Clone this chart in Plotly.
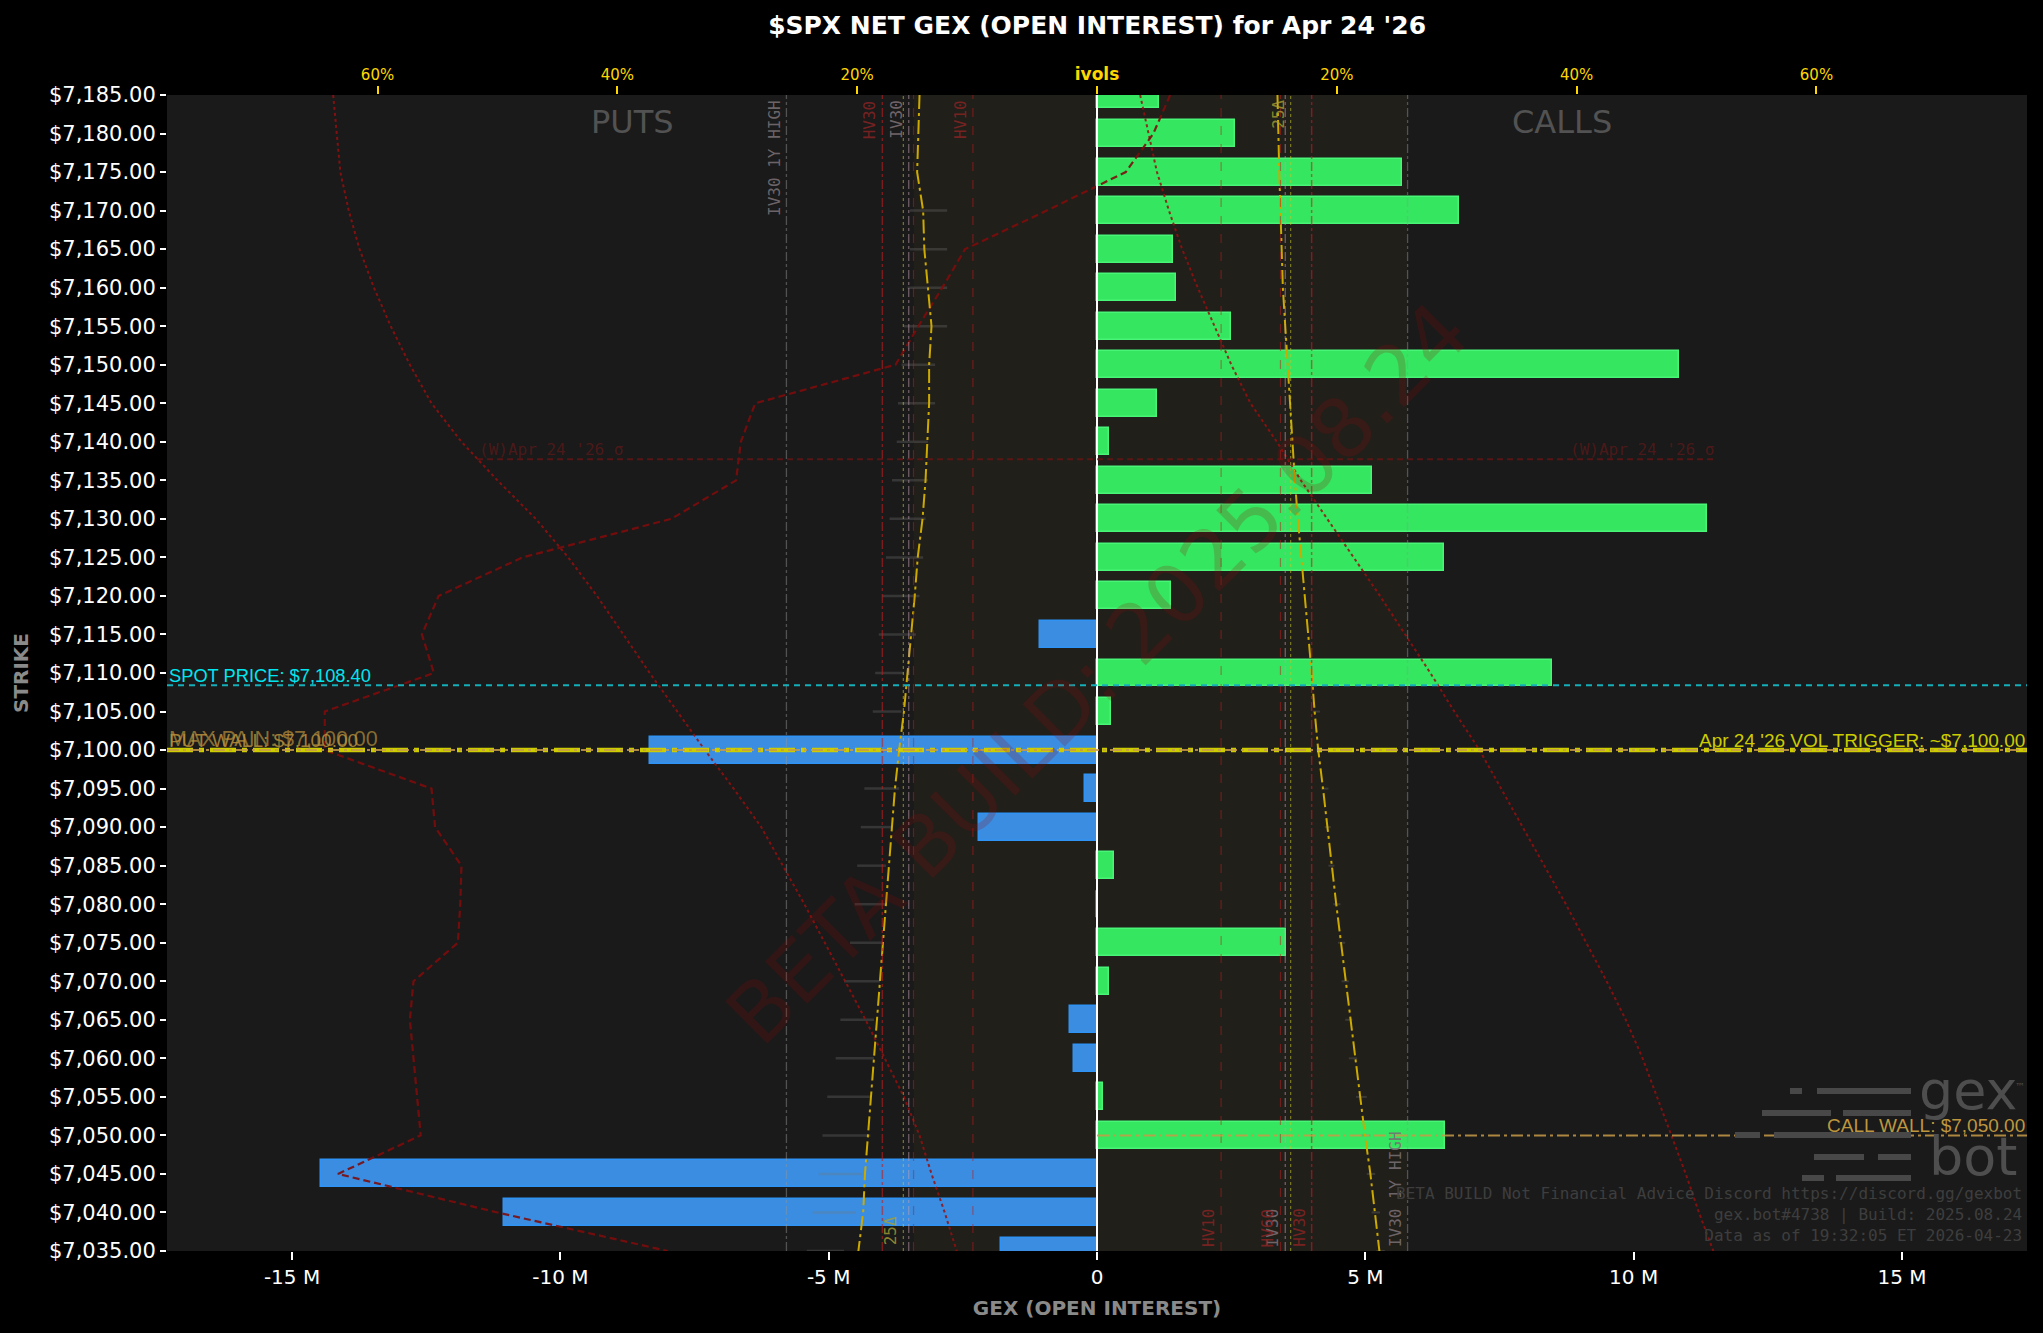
import plotly.graph_objects as go

# ---------------- data ----------------
strikes = [7185, 7180, 7175, 7170, 7165, 7160, 7155, 7150, 7145, 7140, 7135, 7130,
           7125, 7120, 7115, 7110, 7105, 7100, 7095, 7090, 7085, 7080, 7075, 7070,
           7065, 7060, 7055, 7050, 7045, 7040, 7035]
net_gex_m = [1.16, 2.57, 5.69, 6.75, 1.42, 1.48, 2.49, 10.85, 1.11, 0.23, 5.12, 11.37,
             6.47, 1.37, -1.07, 8.47, 0.26, -8.33, -0.22, -2.20, 0.31, 0.0, 3.53, 0.22,
             -0.51, -0.42, 0.11, 6.49, -14.46, -11.05, -1.79]

# implied vol skew curves (percent) - puts plotted mirrored on the left
put_ivol = [14.8, 14.9, 15.0, 14.5, 14.4, 14.1, 13.8, 14.0, 14.0, 14.15, 14.3, 14.55,
            14.95, 15.2, 15.5, 15.85, 16.1, 16.5, 16.85, 17.1, 17.35, 17.6, 17.85, 18.1,
            18.35, 18.6, 18.85, 19.1, 19.35, 19.5, 19.9]
call_ivol = [15.05, 15.1, 15.2, 15.3, 15.4, 15.5, 15.7, 15.9, 16.05, 16.3, 16.5, 16.75,
             17.05, 17.3, 17.6, 17.9, 18.15, 18.45, 18.85, 19.2, 19.55, 19.95, 20.35, 20.75,
             21.1, 21.5, 21.9, 22.35, 22.8, 23.2, 23.55]
# signed skew curve (dark red dashed)
skew_curve = [6.1, 4.7, 2.4, -4.2, -11.0, -12.9, -14.9, -16.8, -28.5, -29.7, -30.1, -35.5,
              -47.9, -54.9, -56.3, -55.3, -64.4, -64.4, -55.5, -55.2, -53.0, -53.1, -53.3, -57.0,
              -57.3, -57.0, -56.7, -56.4, -63.3, -50.0, -35.8]
# dotted curves (percent)
put_wing = [63.7, 63.4, 63.1, 62.4, 61.5, 60.3, 58.9, 57.3, 55.5, 53.0, 50.0, 46.8,
            44.1, 41.7, 39.5, 37.3, 35.0, 32.7, 30.3, 28.0, 26.2, 24.4, 22.7, 21.0,
            19.3, 17.7, 16.1, 14.8, 13.8, 12.7, 11.7]
call_wing = [3.6, 4.3, 5.0, 6.0, 7.1, 8.4, 9.8, 11.2, 12.8, 15.0, 17.0, 19.2,
             21.4, 23.6, 25.7, 27.8, 29.8, 31.9, 33.7, 35.5, 37.3, 39.1, 40.8, 42.5,
             44.1, 45.5, 46.7, 47.9, 49.1, 50.2, 51.4]
# faint bid/ask range marks
put_mark_lo = [None, None, None, 12.5, 12.5, 12.5, 12.5, 13.5, 13.5, 14.1, 14.1, 14.3,
               14.5, 14.8, 15.1, 16.1, 16.3, 16.5, 16.5, 17.1, 17.6, 17.6, 17.9, 18.1,
               18.6, 18.6, 18.9, 18.9, 19.6, 20.1, 21.1]
put_mark_hi = [None, None, None, 15.6, 15.6, 15.8, 16.1, 16.3, 16.6, 16.7, 17.1, 17.3,
               17.6, 17.9, 18.2, 18.5, 18.7, 19.0, 19.4, 19.7, 20.0, 20.2, 20.6, 21.1,
               21.4, 21.8, 22.5, 22.9, 23.2, 23.7, 24.2]
call_mark_lo = [None] * 16 + [18.0, 18.3, 18.7, 19.0, 19.3, 19.7, 20.1, 20.4,
                              20.7, 21.0, 21.6, 22.0, 22.5, 22.9, 23.3]
call_mark_hi = [None] * 16 + [18.6, 18.9, 19.3, 19.5, 19.8, 20.3, 20.7, 21.0,
                              21.3, 21.7, 22.5, 22.8, 23.2, 23.6, 24.0]

# reference vols (percent)
ref_vols = {"IV30 1Y HIGH": 25.9, "HV30": 17.9, "IV30": 15.7, "HV60": 15.3, "HV10": 10.35}
delta25 = 16.15

# levels
spot_price = 7108.40
vol_trigger = 7100.0
put_wall = 7100.0
max_pain = 7100.0
call_wall = 7050.0
sigma_level = 7137.75
sigma_ivol = 51.7

x_ticks_m = [-15, -10, -5, 0, 5, 10, 15]
x_tick_text = ["-15 M", "-10 M", "-5 M", "0", "5 M", "10 M", "15 M"]
ivol_ticks = [-60, -40, -20, 0, 20, 40, 60]
ivol_tick_text = ["60%", "40%", "20%", "<b><span style='font-size:17px'>ivols</span></b>", "20%", "40%", "60%"]

# ---------------- styling ----------------
X_LIM_M = 17.33
PCT_PER_M = 20 / 4.469          # ivol axis scale relative to GEX axis
GREEN, GREEN_EDGE = "#34e660", "#48f577"
BLUE, BLUE_EDGE = "#3a8de0", "#2f93f5"
GOLD = "#FFD700"
TAN = "rgb(190,150,62)"
YEL = "rgb(204,204,0)"

fig = go.Figure()

fig.add_trace(go.Bar(
    y=strikes, x=[v * 1e6 for v in net_gex_m], orientation="h", width=3.5,
    marker=dict(color=[GREEN if v >= 0 else BLUE for v in net_gex_m],
                line=dict(color=[GREEN_EDGE if v >= 0 else BLUE_EDGE for v in net_gex_m], width=1.5)),
    xaxis="x", yaxis="y", hoverinfo="skip"))


def segs(lo, hi, sign):
    xs, ys = [], []
    for k, a, b in zip(strikes, lo, hi):
        if a is None:
            continue
        xs += [sign * a, sign * b, None]
        ys += [k, k, None]
    return xs, ys


mx, my = segs(put_mark_lo, put_mark_hi, -1)
fig.add_trace(go.Scatter(x=mx, y=my, mode="lines", xaxis="x2", yaxis="y",
                         line=dict(color="rgba(120,120,120,0.3)", width=2.5), hoverinfo="skip"))
mx, my = segs(call_mark_lo, call_mark_hi, 1)
fig.add_trace(go.Scatter(x=mx, y=my, mode="lines", xaxis="x2", yaxis="y",
                         line=dict(color="rgba(120,120,120,0.3)", width=2), hoverinfo="skip"))

fig.add_trace(go.Scatter(x=[-v for v in put_wing], y=strikes, mode="lines", xaxis="x2", yaxis="y",
                         line=dict(color="rgba(150,15,15,0.85)", width=2, dash="dot"), hoverinfo="skip"))
fig.add_trace(go.Scatter(x=call_wing, y=strikes, mode="lines", xaxis="x2", yaxis="y",
                         line=dict(color="rgba(150,15,15,0.85)", width=2, dash="dot"), hoverinfo="skip"))
fig.add_trace(go.Scatter(x=skew_curve, y=strikes, mode="lines", xaxis="x2", yaxis="y",
                         line=dict(color="rgba(125,12,12,0.9)", width=2.2, dash="7px,4px"), hoverinfo="skip"))
fig.add_trace(go.Scatter(x=[-v for v in put_ivol], y=strikes, mode="lines", xaxis="x2", yaxis="y",
                         line=dict(color="rgb(205,170,0)", width=2, dash="14px,4px,3px,4px"), hoverinfo="skip"))
fig.add_trace(go.Scatter(x=call_ivol, y=strikes, mode="lines", xaxis="x2", yaxis="y",
                         line=dict(color="rgb(205,170,0)", width=2, dash="14px,4px,3px,4px"), hoverinfo="skip"))

shapes = []
annotations = []

# tinted band
shapes.append(dict(type="rect", xref="x2", yref="paper", x0=-ref_vols["HV60"], x1=ref_vols["IV30 1Y HIGH"],
                   y0=0, y1=1, fillcolor="rgb(33,31,26)", line=dict(width=0), layer="below"))

line_styles = {
    "IV30 1Y HIGH": ("rgba(150,150,150,0.45)", "dashdot", 1.3, "rgba(120,110,115,0.9)"),
    "HV30": ("rgba(190,30,30,0.6)", "dashdot", 1.5, "rgba(130,35,35,0.9)"),
    "IV30": ("rgba(200,160,180,0.5)", "dashdot", 1.3, "rgba(125,110,115,0.9)"),
    "HV60": ("rgba(190,30,30,0.5)", "dash", 1.2, "rgba(130,35,35,0.9)"),
    "HV10": ("rgba(190,30,30,0.5)", "dash", 1.2, "rgba(130,35,35,0.9)"),
}
for name, v in ref_vols.items():
    col, dash, w, tcol = line_styles[name]
    for sgn in (-1, 1):
        shapes.append(dict(type="line", xref="x2", yref="paper", x0=sgn * v, x1=sgn * v, y0=0, y1=1,
                           line=dict(color=col, width=w, dash=dash), layer="above"))
    if name != "HV60":
        annotations.append(dict(x=-v, y=1, xref="x2", yref="paper", text=name, textangle=-90,
                                xanchor="right", yanchor="top", showarrow=False, xshift=-1, yshift=-3,
                                font=dict(family="DejaVu Sans Mono", size=16, color=tcol)))
    annotations.append(dict(x=v, y=0, xref="x2", yref="paper", text=name, textangle=-90,
                            xanchor="right", yanchor="bottom", showarrow=False, xshift=-1, yshift=2,
                            font=dict(family="DejaVu Sans Mono", size=16, color=tcol)))
for sgn in (-1, 1):
    shapes.append(dict(type="line", xref="x2", yref="paper", x0=sgn * delta25, x1=sgn * delta25, y0=0, y1=1,
                       line=dict(color="rgba(200,200,40,0.55)", width=1.2, dash="dot"), layer="above"))
annotations.append(dict(x=-delta25, y=0, xref="x2", yref="paper", text="25Δ", textangle=-90,
                        xanchor="right", yanchor="bottom", showarrow=False, xshift=-1, yshift=4,
                        font=dict(family="DejaVu Sans Mono", size=16, color="rgba(170,160,50,0.8)")))
annotations.append(dict(x=delta25, y=1, xref="x2", yref="paper", text="25Δ", textangle=-90,
                        xanchor="right", yanchor="top", showarrow=False, xshift=-1, yshift=-3,
                        font=dict(family="DejaVu Sans Mono", size=16, color="rgba(170,160,50,0.8)")))

# zero line
shapes.append(dict(type="line", xref="x", yref="paper", x0=0, x1=0, y0=0, y1=1,
                   line=dict(color="white", width=2), layer="above"))

# sigma line
shapes.append(dict(type="line", xref="x2", yref="y", x0=-sigma_ivol, x1=sigma_ivol, y0=sigma_level, y1=sigma_level,
                   line=dict(color="rgba(110,20,20,0.75)", width=2, dash="6px,4px"), layer="above"))
for xv, anc in ((-sigma_ivol, "left"), (sigma_ivol, "right")):
    annotations.append(dict(x=xv, y=sigma_level, xref="x2", yref="y", text="(W)Apr 24 '26 σ",
                            xanchor=anc, yanchor="bottom", showarrow=False, yshift=-2,
                            font=dict(family="DejaVu Sans Mono", size=16, color="rgba(110,25,25,0.6)")))

# spot line
shapes.append(dict(type="line", xref="paper", yref="y", x0=0, x1=1, y0=spot_price, y1=spot_price,
                   line=dict(color="rgb(20,175,185)", width=2, dash="6px,5px"), layer="above"))
# vol trigger / walls
shapes.append(dict(type="line", xref="paper", yref="y", x0=0, x1=1, y0=vol_trigger, y1=vol_trigger,
                   line=dict(color=YEL, width=4.5, dash="26px,6px,5px,6px"), layer="above"))
shapes.append(dict(type="line", xref="paper", yref="y", x0=0, x1=1, y0=max_pain, y1=max_pain,
                   line=dict(color="rgba(200,155,70,0.85)", width=2, dash="12px,4px,3px,4px"), layer="above"))
shapes.append(dict(type="line", xref="x", yref="y", x0=0, x1=X_LIM_M * 1e6, y0=call_wall, y1=call_wall,
                   line=dict(color="rgba(200,155,70,0.85)", width=2, dash="12px,4px,3px,4px"), layer="above"))

LBL = "Liberation Sans"
annotations += [
    dict(x=0, y=spot_price, xref="paper", yref="y", text=f"SPOT PRICE: ${spot_price:,.2f}",
         xanchor="left", yanchor="bottom", showarrow=False, yshift=-3, xshift=0,
         font=dict(family=LBL, size=18.3, color="rgb(0,230,240)")),
    dict(x=0, y=max_pain, xref="paper", yref="y", text=f"MAX PAIN: ${max_pain:,.2f}",
         xanchor="left", yanchor="bottom", showarrow=False, yshift=-3, xshift=0,
         font=dict(family=LBL, size=21.5, color="rgba(185,145,60,0.7)")),
    dict(x=0, y=put_wall, xref="paper", yref="y", text=f"PUT WALL: ${put_wall:,.2f}",
         xanchor="left", yanchor="bottom", showarrow=False, yshift=-3, xshift=0,
         font=dict(family=LBL, size=19, color="rgba(185,145,60,0.85)")),
    dict(x=1, y=vol_trigger, xref="paper", yref="y", text=f"Apr 24 '26 VOL TRIGGER: ~${vol_trigger:,.2f}",
         xanchor="right", yanchor="bottom", showarrow=False, yshift=-3,
         font=dict(family=LBL, size=19, color=YEL)),
    dict(x=1, y=call_wall, xref="paper", yref="y", text=f"CALL WALL: ${call_wall:,.2f}",
         xanchor="right", yanchor="bottom", showarrow=False, yshift=-3,
         font=dict(family=LBL, size=19, color=TAN)),
    dict(x=-X_LIM_M / 2 * 1e6, y=1, xref="x", yref="paper", text="PUTS", xanchor="center", yanchor="top",
         showarrow=False, yshift=-6, font=dict(family="DejaVu Sans", size=32, color="rgb(82,82,82)")),
    dict(x=X_LIM_M / 2 * 1e6, y=1, xref="x", yref="paper", text="CALLS", xanchor="center", yanchor="top",
         showarrow=False, yshift=-6, font=dict(family="DejaVu Sans", size=32, color="rgb(82,82,82)")),
    dict(x=0.5, y=0.5, xref="paper", yref="paper", text="BETA BUILD: 2025.08.24", textangle=-45,
         showarrow=False, font=dict(family="DejaVu Sans", size=82, color="rgba(150,10,10,0.2)")),
    dict(x=1, y=0, xref="paper", yref="paper", xanchor="right", yanchor="bottom", align="right",
         showarrow=False, xshift=-3, yshift=4,
         text="BETA BUILD Not Financial Advice Discord https://discord.gg/gexbot<br>"
              "gex.bot#4738 | Build: 2025.08.24<br>Data as of 19:32:05 ET 2026-04-23",
         font=dict(family="DejaVu Sans Mono", size=16, color="rgb(62,62,62)")),
    # gexbot logo
    dict(x=0.992, y=0.110, xref="paper", yref="paper", text="gex", xanchor="right", yanchor="bottom",
         showarrow=False, xshift=8, font=dict(family="DejaVu Sans", size=54, color="rgb(78,78,78)")),
    dict(x=0.992, y=0.053, xref="paper", yref="paper", text="bot", xanchor="right", yanchor="bottom",
         showarrow=False, xshift=8, font=dict(family="DejaVu Sans", size=54, color="rgb(78,78,78)")),
    dict(x=0.996, y=0.142, xref="paper", yref="paper", text="™", xanchor="center", yanchor="middle",
         showarrow=False, font=dict(family="DejaVu Sans", size=10, color="rgb(78,78,78)")),
]
logo_rows = [(1091, [(1790, 1802), (1817, 1911)]), (1113, [(1762, 1831), (1843, 1911)]),
             (1135, [(1735, 1760), (1774, 1911)]), (1157, [(1814, 1864), (1878, 1911)]),
             (1178, [(1802, 1824), (1836, 1911)])]
for py, parts in logo_rows:
    for a, b in parts:
        shapes.append(dict(type="line", xref="paper", yref="paper",
                           x0=(a - 167) / 1860, x1=(b - 167) / 1860,
                           y0=(1251 - py) / 1156, y1=(1251 - py) / 1156,
                           line=dict(color="rgb(72,72,72)", width=6), layer="above"))

fig.update_layout(
    width=2043, height=1333,
    margin=dict(l=167, r=16, t=95, b=82),
    paper_bgcolor="black", plot_bgcolor="#1a1a1a",
    font=dict(family="DejaVu Sans", color="white"),
    showlegend=False, bargap=0,
    title=dict(text="<b>$SPX NET GEX (OPEN INTEREST) for Apr 24 '26</b>", x=0.537, xanchor="center",
               y=1 - 25 / 1333, yanchor="middle", font=dict(size=25, color="white")),
    xaxis=dict(range=[-X_LIM_M * 1e6, X_LIM_M * 1e6], tickvals=[v * 1e6 for v in x_ticks_m],
               ticktext=x_tick_text, ticks="outside", ticklen=8, tickwidth=1.5, tickcolor="white",
               tickfont=dict(size=20, color="white"), showgrid=False, zeroline=False, showline=False,
               title=dict(text="<b>GEX (OPEN INTEREST)</b>", standoff=12,
                          font=dict(size=20, color="#8a8a8a"))),
    xaxis2=dict(range=[-X_LIM_M * PCT_PER_M, X_LIM_M * PCT_PER_M], overlaying="x", side="top", anchor="y",
                tickvals=ivol_ticks, ticktext=ivol_tick_text, ticks="outside", ticklen=8, tickwidth=1.5,
                tickcolor=GOLD, tickfont=dict(size=15, color=GOLD), showgrid=False, zeroline=False,
                showline=False),
    yaxis=dict(range=[7035, 7185], tickvals=strikes, tickformat="$,.2f", ticks="outside", ticklen=6,
               tickwidth=1.5, tickcolor="white", tickfont=dict(size=21, color="white"),
               showgrid=False, zeroline=False, showline=False,
               title=dict(text="<b>STRIKE</b>", standoff=14, font=dict(size=20, color="#8a8a8a"))),
    shapes=shapes, annotations=annotations,
)

fig.write_html("out.html", config={"displayModeBar": False},
               post_script="document.body.style.margin='0';document.body.style.overflow='hidden';")
